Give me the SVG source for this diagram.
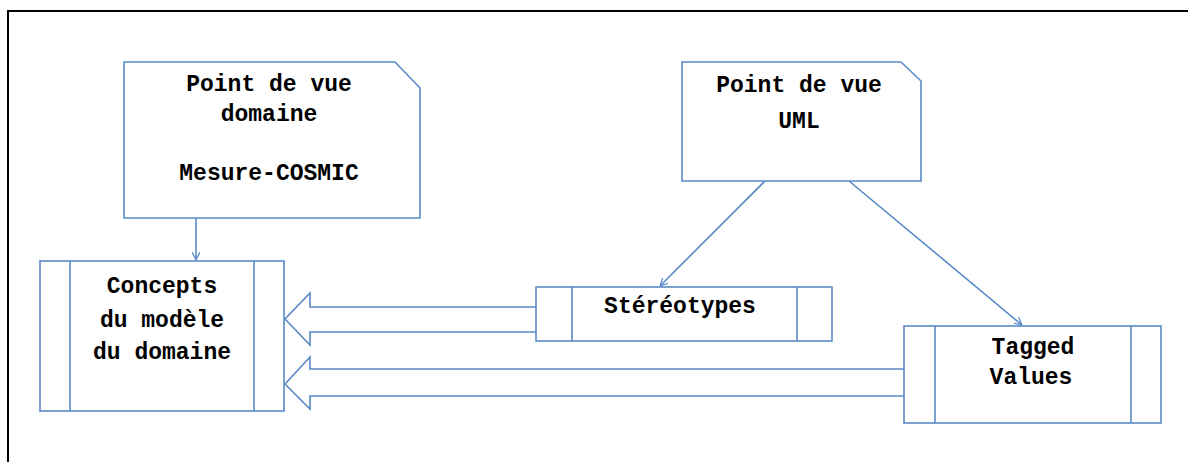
<svg xmlns="http://www.w3.org/2000/svg" width="1188" height="462" viewBox="0 0 1188 462">
<defs>
<style>
.s{fill:#fff;stroke:#5A8AC6;stroke-width:1.6}
.l{fill:none;stroke:#5A8AC6;stroke-width:1.6}
.t{font-family:"Liberation Mono","DejaVu Sans Mono",monospace;font-weight:bold;font-size:23px;fill:#000;text-anchor:middle}
</style>
<marker id="ah" viewBox="0 0 10 10" refX="10" refY="5" markerWidth="8" markerHeight="8" markerUnits="userSpaceOnUse" orient="auto">
<path d="M0,0 L10,5 L0,10" fill="none" stroke="#5A8AC6" stroke-width="1.6"/>
</marker>
</defs>
<rect width="1188" height="462" fill="#fff"/>
<path d="M8,462 L8,11 L1188,11" fill="none" stroke="#000" stroke-width="2"/>
<g id="connectors">
<line class="l" x1="196" y1="218" x2="196" y2="260" marker-end="url(#ah)"/>
<line class="l" x1="765" y1="181" x2="660" y2="286" marker-end="url(#ah)"/>
<line class="l" x1="849" y1="181" x2="1022" y2="325" marker-end="url(#ah)"/>
<path class="s" d="M536,307 L310,307 L310,293 L285,319 L310,345 L310,332 L536,332"/>
<path class="s" d="M907,369 L310,369 L310,357 L285,384 L310,409 L310,396 L907,396 Z"/>
</g>
<g id="pv-domaine">
<path class="s" d="M124,62 L395,62 L420,88 L420,218 L124,218 Z"/>
<text class="t" x="269" y="91">Point de vue</text>
<text class="t" x="269" y="121">domaine</text>
<text class="t" x="269" y="180">Mesure-COSMIC</text>
</g>
<g id="pv-uml">
<path class="s" d="M682,62 L901,62 L921,81 L921,181 L682,181 Z"/>
<text class="t" x="799" y="92">Point de vue</text>
<text class="t" x="799" y="128">UML</text>
</g>
<g id="concepts">
<rect class="s" x="40" y="261" width="244" height="150"/>
<line class="l" x1="70" y1="261" x2="70" y2="411"/>
<line class="l" x1="254" y1="261" x2="254" y2="411"/>
<text class="t" x="162" y="293">Concepts</text>
<text class="t" x="162" y="327">du modèle</text>
<text class="t" x="162" y="359">du domaine</text>
</g>
<g id="stereotypes">
<rect class="s" x="536" y="287" width="296" height="54"/>
<line class="l" x1="572" y1="287" x2="572" y2="341"/>
<line class="l" x1="797" y1="287" x2="797" y2="341"/>
<text class="t" x="680" y="313">Stéréotypes</text>
</g>
<g id="tagged">
<rect class="s" x="904" y="326" width="257" height="97"/>
<line class="l" x1="935" y1="326" x2="935" y2="423"/>
<line class="l" x1="1131" y1="326" x2="1131" y2="423"/>
<text class="t" x="1033" y="354">Tagged</text>
<text class="t" x="1031" y="384">Values</text>
</g>
</svg>
